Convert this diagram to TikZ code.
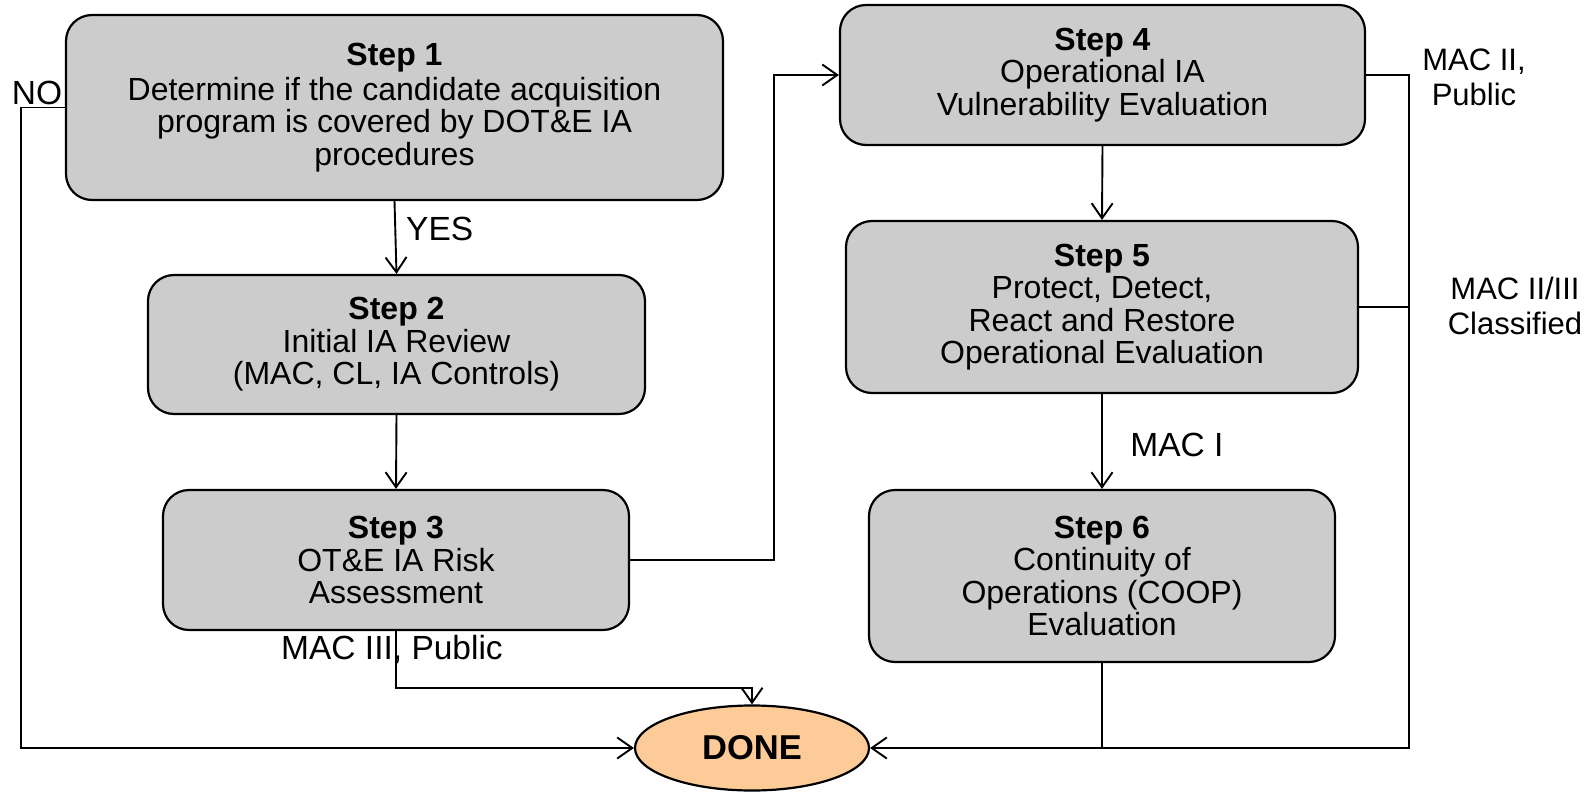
\documentclass[tikz,border=0pt]{standalone}
\usepackage{fontspec}
\setmainfont{Liberation Sans}
\usetikzlibrary{arrows.meta,shapes.geometric}
\definecolor{boxgray}{HTML}{CCCCCC}
\definecolor{donefill}{HTML}{FDCB97}
\begin{document}
\begin{tikzpicture}[x=1pt,y=-1pt,
  txt/.style={font=\fontsize{32}{32.5}\selectfont},
  stepbox/.style={txt, draw=black, line width=2.2pt, fill=boxgray,
    rounded corners=26pt, align=center, inner sep=0pt},
  lbl/.style={font=\fontsize{33.5}{35}\selectfont, align=center, inner sep=0pt},
  sidelbl/.style={font=\fontsize{31}{35}\selectfont, align=center, inner sep=0pt},
  conn/.style={line width=1.9pt},
  arr/.style={conn, -{Straight Barb[length=15pt,width=21pt,line width=1.9pt]}}]
\useasboundingbox (0,0) rectangle (1591,792);

% process steps
\node[stepbox, minimum width=657pt, minimum height=185pt] (s1) at (394.5,107.5)
  {\textbf{Step 1}\\[2pt]Determine if the candidate acquisition\\program is covered by DOT\&E IA\\procedures};
\node[stepbox, minimum width=497pt, minimum height=139pt] (s2) at (396.5,344.5)
  {\textbf{Step 2}\\Initial IA Review\\(MAC, CL, IA Controls)};
\node[stepbox, minimum width=466pt, minimum height=140pt] (s3) at (396,560)
  {\textbf{Step 3}\\OT\&E IA Risk\\Assessment};
\node[stepbox, minimum width=525pt, minimum height=140pt] (s4) at (1102.5,75)
  {\textbf{Step 4}\\Operational IA\\Vulnerability Evaluation};
\node[stepbox, minimum width=512pt, minimum height=172pt] (s5) at (1102,307)
  {\textbf{Step 5}\\Protect, Detect,\\React and Restore\\Operational Evaluation};
\node[stepbox, minimum width=466pt, minimum height=172pt] (s6) at (1102,576)
  {\textbf{Step 6}\\Continuity of\\Operations (COOP)\\Evaluation};

% terminal
\node[ellipse, draw=black, line width=2.2pt, fill=donefill, inner sep=0pt,
  minimum width=234pt, minimum height=85pt, font=\fontsize{34.5}{36}\selectfont\bfseries]
  (done) at (752,748) {DONE};

% connectors
\draw[arr] (s1.south) -- (s2.north);
\draw[arr] (s2.south) -- (s3.north);
\draw[arr] (s4.south) -- (s5.north);
\draw[arr] (s5.south) -- (s6.north);
\draw[arr] (s1.west) -- ++(-44,0) coordinate (nobend) |- (done.west);
\draw[arr] (s3.east) -- ++(144,0) coordinate (upbend) |- (s4.west);
\draw[arr] (s3.south) -- ++(0,57) -| (done.north);
\draw[arr] (s6.south) |- (done.east);
\draw[conn] (s4.east) -- ++(43,0) coordinate (rbend) |- (s6.south |- done.east);
\draw[conn] (s5.east) -- (s5.east -| rbend);

% branch labels
\node[lbl] (lno) at (37,93) {NO};
\node[lbl, anchor=west] (lyes) at (406,229) {YES};
\node[lbl] (lmac3) at (392,649) {MAC III, Public};
\node[lbl] (lmac1) at (1177,445) {MAC I};
\node[sidelbl] (lmac2) at (1474,77) {MAC II,\\Public};
\node[sidelbl] (lmac23) at (1515,306) {MAC II/III\\Classified};
\end{tikzpicture}
\end{document}
